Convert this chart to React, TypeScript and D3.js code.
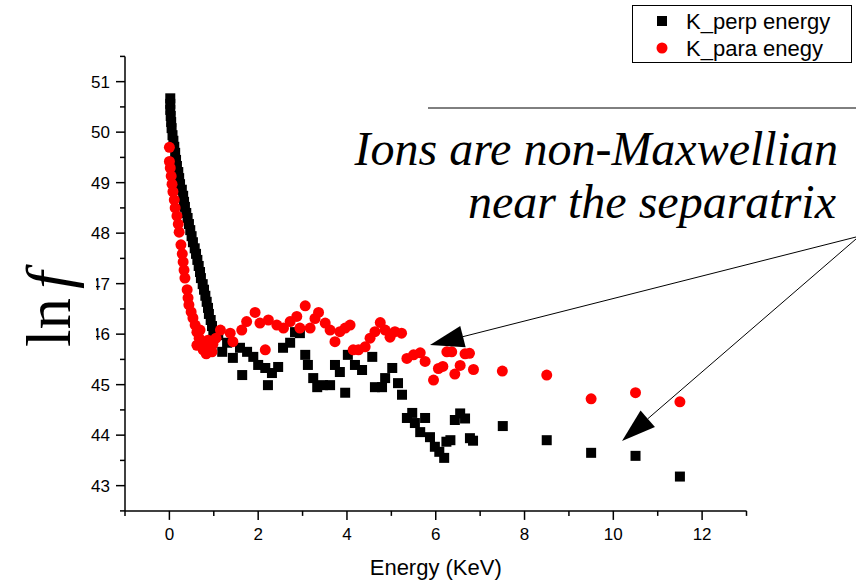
import React from 'react';
import * as d3 from 'd3';

// K_perp energy (black squares)
const perpEnergy = [
  0.02, 0.02, 0.02, 0.03, 0.04, 0.05, 0.07, 0.09, 0.11, 0.13, 0.15, 0.17, 0.2, 0.22, 0.24, 0.28, 0.31, 0.33, 0.35, 0.38,
  0.41, 0.44, 0.47, 0.5, 0.53, 0.57, 0.6, 0.63, 0.66, 0.69, 0.71, 0.75, 0.78, 0.81, 0.84, 0.87, 0.89, 0.93, 0.96, 0.99,
  1.03, 1.1, 1.19, 1.3, 1.43, 1.59, 1.64, 1.75, 1.89, 2.0, 2.16, 2.22, 2.31, 2.45, 2.56, 2.72, 2.83, 2.94, 3.06, 3.12,
  3.24, 3.33, 3.46, 3.62, 3.73, 3.84, 3.96, 4.02, 4.18, 4.34, 4.57, 4.63, 4.79, 4.86, 5.02, 5.15, 5.24, 5.35, 5.47, 5.53,
  5.65, 5.76, 5.87, 5.98, 6.08, 6.19, 6.24, 6.33, 6.43, 6.55, 6.66, 6.77, 6.84, 7.51, 8.5, 9.5, 10.5, 11.5,
];
const perpLnF = [
  50.67, 50.56, 50.44, 50.32, 50.2, 50.08, 49.94, 49.83, 49.71, 49.59, 49.45, 49.33, 49.21, 49.09, 48.97, 48.86, 48.74, 48.62, 48.52, 48.4,
  48.3, 48.18, 48.06, 47.94, 47.82, 47.7, 47.59, 47.47, 47.35, 47.23, 47.11, 46.99, 46.88, 46.76, 46.64, 46.52, 46.4, 46.28, 46.16, 46.06,
  45.96, 45.98, 45.65, 45.83, 45.53, 45.73, 45.19, 45.65, 45.55, 45.39, 45.33, 44.99, 45.23, 45.35, 45.73, 45.83, 46.04, 46.02, 45.59, 45.39,
  45.13, 44.95, 44.99, 44.99, 45.39, 45.25, 44.84, 45.59, 45.39, 45.29, 45.55, 44.95, 44.95, 45.13, 45.33, 45.03, 44.8, 44.34, 44.44, 44.24,
  44.06, 44.34, 43.96, 43.77, 43.67, 43.55, 43.87, 43.9, 44.3, 44.43, 44.33, 43.94, 43.89, 44.18, 43.9, 43.65, 43.59, 43.18,
];

// K_para enegy (red circles)
const paraEnergy = [
  0.0, 0.0, 0.02, 0.04, 0.06, 0.08, 0.11, 0.13, 0.17, 0.2, 0.22, 0.26, 0.29, 0.31, 0.33, 0.35, 0.4, 0.42, 0.44, 0.49,
  0.53, 0.58, 0.62, 0.62, 0.67, 0.69, 0.71, 0.76, 0.83, 0.87, 0.92, 0.96, 0.98, 1.05, 1.15, 1.37, 1.43, 1.63, 1.74, 1.93,
  2.04, 2.16, 2.23, 2.42, 2.57, 2.72, 2.87, 2.94, 3.06, 3.17, 3.28, 3.36, 3.51, 3.62, 3.73, 3.84, 3.96, 4.07, 4.14, 4.26,
  4.41, 4.52, 4.63, 4.75, 4.86, 4.97, 5.08, 5.23, 5.35, 5.5, 5.65, 5.76, 5.95, 6.06, 6.16, 6.25, 6.36, 6.43, 6.55, 6.66,
  6.76, 6.85, 7.5, 8.5, 9.5, 10.5, 11.5,
];
const paraLnF = [
  49.7, 49.42, 49.29, 49.13, 48.97, 48.82, 48.66, 48.5, 48.34, 48.18, 48.02, 47.77, 47.59, 47.43, 47.27, 47.11, 46.88, 46.72, 46.58, 46.44,
  46.32, 46.18, 46.04, 45.78, 45.92, 46.08, 45.8, 45.69, 45.61, 45.88, 45.73, 45.65, 45.8, 45.92, 46.08, 46.02, 45.85, 46.08, 46.25, 46.43,
  46.22, 45.69, 46.28, 46.18, 46.12, 46.25, 46.35, 46.12, 46.56, 46.12, 46.31, 46.43, 46.22, 46.08, 45.85, 46.05, 46.12, 46.18, 45.69, 45.69,
  45.75, 45.92, 46.05, 46.23, 46.08, 45.94, 46.05, 46.02, 45.52, 45.59, 45.63, 45.46, 45.09, 45.32, 45.36, 45.65, 45.65, 45.21, 45.38, 45.61,
  45.62, 45.3, 45.27, 45.19, 44.72, 44.84, 44.66,
];

const xMajorTicks = [0, 2, 4, 6, 8, 10, 12];
const xMinorTicks = [-1, 1, 3, 5, 7, 9, 11, 13];
const yMajorTicks = [43, 44, 45, 46, 47, 48, 49, 50, 51];
const yMinorTicks = [42.5, 43.5, 44.5, 45.5, 46.5, 47.5, 48.5, 49.5, 50.5, 51.5];
const legendLabels = ['K_perp energy', 'K_para enegy'];
const annotationLines = ['Ions are non-Maxwellian', 'near the separatrix'];
const xTitle = 'Energy (KeV)';

const SANS = '"Liberation Sans", Arial, sans-serif';
const SERIF = '"Liberation Serif", "Times New Roman", serif';

function Arrow({ x1, y1, x2, y2 }: { x1: number; y1: number; x2: number; y2: number }) {
  const dx = x2 - x1;
  const dy = y2 - y1;
  const len = Math.hypot(dx, dy);
  const ux = dx / len;
  const uy = dy / len;
  const hl = 34;
  const hw = 11;
  const bx = x2 - ux * hl;
  const by = y2 - uy * hl;
  const px = -uy;
  const py = ux;
  const pts = `${x2},${y2} ${bx + px * hw},${by + py * hw} ${bx - px * hw},${by - py * hw}`;
  return (
    <g>
      <line x1={x1} y1={y1} x2={bx} y2={by} stroke="#000" strokeWidth={1} />
      <polygon points={pts} fill="#000" />
    </g>
  );
}

export default function App() {
  const x = d3.scaleLinear().domain([-1, 13]).range([125, 746.5]);
  const y = d3.scaleLinear().domain([42.5, 51.5]).range([510.9, 56.4]);
  const x0 = x(-1);
  const yb = y(42.5);
  const sq = 10;

  return (
    <div style={{ position: 'fixed', left: 0, top: 0 }}>
      <svg width={856} height={582} style={{ display: 'block', background: '#fff' }}>
        {/* axes */}
        <line x1={x0} y1={y(51.5)} x2={x0} y2={yb} stroke="#000" strokeWidth={1.5} />
        <line x1={x0} y1={yb} x2={x(13)} y2={yb} stroke="#000" strokeWidth={1.5} />
        {xMajorTicks.map((t) => (
          <g key={'xm' + t}>
            <line x1={x(t)} x2={x(t)} y1={yb} y2={yb + 9} stroke="#000" strokeWidth={1.5} />
            <text x={x(t)} y={540} textAnchor="middle" fontFamily={SANS} fontSize={17}>
              {t}
            </text>
          </g>
        ))}
        {xMinorTicks.map((t) => (
          <line key={'xn' + t} x1={x(t)} x2={x(t)} y1={yb} y2={yb + 5} stroke="#000" strokeWidth={1.5} />
        ))}
        {yMajorTicks.map((t) => (
          <g key={'ym' + t}>
            <line x1={x0 - 9} x2={x0} y1={y(t)} y2={y(t)} stroke="#000" strokeWidth={1.5} />
            <text x={110} y={y(t) + 6} textAnchor="end" fontFamily={SANS} fontSize={17}>
              {t}
            </text>
          </g>
        ))}
        {yMinorTicks.map((t) => (
          <line key={'yn' + t} x1={x0 - 5} x2={x0} y1={y(t)} y2={y(t)} stroke="#000" strokeWidth={1.5} />
        ))}
        <text x={(x(-1) + x(13)) / 2} y={575} textAnchor="middle" fontFamily={SANS} fontSize={22}>
          {xTitle}
        </text>

        {/* data */}
        {perpEnergy.map((e, i) => (
          <rect key={'p' + i} x={x(e) - sq / 2} y={y(perpLnF[i]) - sq / 2} width={sq} height={sq} fill="#000" />
        ))}
        {paraEnergy.map((e, i) => (
          <circle key={'r' + i} cx={x(e)} cy={y(paraLnF[i])} r={5.5} fill="#ff0000" />
        ))}

        {/* y title with its white box slightly covering tick labels */}
        <rect x={20} y={262} width={76} height={80} fill="#fff" />
        <text transform="translate(70,347) rotate(-90)" fontFamily={SERIF} fontSize={63}>
          ln<tspan dx={9} fontStyle="italic">f</tspan>
        </text>

        {/* annotation */}
        <line x1={428} y1={108} x2={856} y2={108} stroke="#000" strokeWidth={1} />
        <text x={838} y={165} textAnchor="end" fontFamily={SERIF} fontStyle="italic" fontSize={48}>
          {annotationLines[0]}
        </text>
        <text x={836} y={218} textAnchor="end" fontFamily={SERIF} fontStyle="italic" fontSize={48}>
          {annotationLines[1]}
        </text>
        <Arrow x1={856} y1={237} x2={430} y2={345} />
        <Arrow x1={856} y1={239} x2={622} y2={441} />

        {/* legend */}
        <rect x={632.5} y={5.5} width={219} height={57} fill="#fff" stroke="#000" strokeWidth={1} />
        <rect x={662 - sq / 2} y={21 - sq / 2} width={sq} height={sq} fill="#000" />
        <circle cx={662} cy={48} r={5.5} fill="#ff0000" />
        <text x={686} y={28.5} fontFamily={SANS} fontSize={22}>
          {legendLabels[0]}
        </text>
        <text x={686} y={56} fontFamily={SANS} fontSize={22}>
          {legendLabels[1]}
        </text>
      </svg>
    </div>
  );
}
